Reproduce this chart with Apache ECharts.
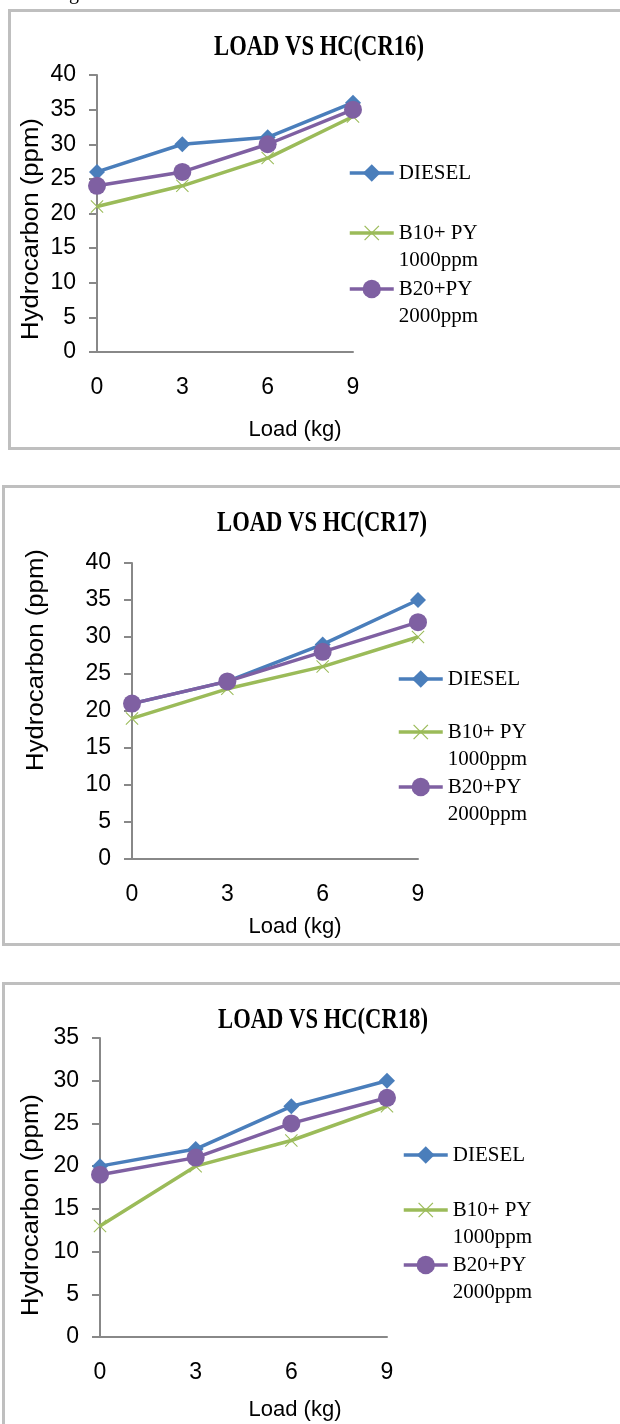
<!DOCTYPE html>
<html><head><meta charset="utf-8">
<script src="https://cdn.jsdelivr.net/npm/echarts@6/dist/echarts.min.js"></script>
<style>html,body{margin:0;padding:0;background:#fff;}#c{width:620px;height:1424px;}</style>
</head><body><div id="c"></div>
<script>
// ---- data ----
const loads = ['0', '3', '6', '9'];
const seriesNames = ['DIESEL', 'B10+ PY\n1000ppm', 'B20+PY\n2000ppm'];
const titles = ['LOAD VS HC(CR16)', 'LOAD VS HC(CR17)', 'LOAD VS HC(CR18)'];
const yMax = [40, 40, 35];
const cr16Diesel = [26, 30, 31, 36];
const cr16B10 = [21, 24, 28, 34];
const cr16B20 = [24, 26, 30, 35];
const cr17Diesel = [21, 24, 29, 35];
const cr17B10 = [19, 23, 26, 30];
const cr17B20 = [21, 24, 28, 32];
const cr18Diesel = [20, 22, 27, 30];
const cr18B10 = [13, 20, 23, 27];
const cr18B20 = [19, 21, 25, 28];
const yTitle = 'Hydrocarbon (ppm)';
const xTitle = 'Load (kg)';

const chartData = [
  [cr16Diesel, cr16B10, cr16B20],
  [cr17Diesel, cr17B10, cr17B20],
  [cr18Diesel, cr18B10, cr18B20]
];

// ---- layout ----
const grids = [
  {left: 97, top: 75, width: 256, height: 277},
  {left: 132, top: 563, width: 286, height: 296},
  {left: 100, top: 1038, width: 287, height: 299}
];
const boxes = [
  {x: 9.5, y: 10.5, w: 640, h: 438},
  {x: 3.5, y: 486.5, w: 640, h: 458},
  {x: 3.5, y: 983.5, w: 640, h: 500}
];
const titlePos = [[319, 48], [322, 524], [323, 1021]];
const yTitlePos = [[32, 229], [37, 660], [32, 1205]];
const xTitlePos = [[295, 430], [295, 927], [295, 1410]];
const legendLeft = [348, 397, 402];
const legendCenters = [[173, 233, 289], [679, 732, 787], [1155, 1210, 1265]];

const colors = ['#4a7ebb', '#9bbb59', '#7f60a2'];
const symbols = ['diamond',
  'path://M0,0.8L0.8,0L7,6.2L13.2,0L14,0.8L7.8,7L14,13.2L13.2,14L7,7.8L0.8,14L0,13.2L6.2,7Z',
  'circle'];
const symbolSizes = [16, 13, 18];
const legendItemH = [22, 19, 23];
const axisColor = '#888888';
const LH = 27;

const option = {
  animation: false,
  backgroundColor: '#fff',
  grid: grids.map(g => Object.assign({containLabel: false}, g)),
  xAxis: grids.map((g, i) => ({
    type: 'category', gridIndex: i, data: loads, boundaryGap: false,
    axisLine: {lineStyle: {color: axisColor, width: 2}},
    axisTick: {show: false},
    axisLabel: {color: '#000', fontFamily: 'Liberation Sans', fontSize: 23, margin: 24},
    splitLine: {show: false}
  })),
  yAxis: grids.map((g, i) => ({
    type: 'value', gridIndex: i, min: 0, max: yMax[i], interval: 5,
    axisLine: {show: true, lineStyle: {color: axisColor, width: 2}},
    axisTick: {show: true, length: 8, lineStyle: {color: axisColor, width: 2}},
    axisLabel: {color: '#000', fontFamily: 'Liberation Sans', fontSize: 23, margin: 21},
    splitLine: {show: false}
  })),
  legend: [],
  series: [],
  graphic: []
};

chartData.forEach((sets, ci) => {
  sets.forEach((vals, si) => {
    option.series.push({
      type: 'line', name: seriesNames[si], xAxisIndex: ci, yAxisIndex: ci,
      data: vals, symbol: symbols[si], symbolSize: symbolSizes[si],
      lineStyle: {color: colors[si], width: 3.5},
      itemStyle: {color: colors[si], borderWidth: 0},
      z: 2 + si
    });
    const twoLine = seriesNames[si].indexOf('\n') >= 0;
    const c = legendCenters[ci][si];
    option.legend.push({
      orient: 'vertical', left: legendLeft[ci], top: twoLine ? c - 1.5 * LH : c - 0.5 * LH,
      padding: 0, itemWidth: 44, itemHeight: legendItemH[si], itemGap: 0,
      data: [seriesNames[si]],
      lineStyle: {width: 3.5},
      formatter: name => (name.indexOf('\n') >= 0 ? '\n' + name : name),
      textStyle: {color: '#000', fontFamily: 'Liberation Serif', fontSize: 21, lineHeight: LH}
    });
  });
  const b = boxes[ci];
  option.graphic.push({
    type: 'rect', shape: {x: b.x, y: b.y, width: b.w, height: b.h},
    style: {fill: null, stroke: '#bfbfbf', lineWidth: 3}, z: 0, silent: true
  });
  option.graphic.push({
    type: 'text', x: titlePos[ci][0], y: titlePos[ci][1], scaleX: 0.78,
    style: {text: titles[ci], font: 'bold 29px "Liberation Serif"', fill: '#000', align: 'center', verticalAlign: 'middle'}
  });
  option.graphic.push({
    type: 'text', x: yTitlePos[ci][0], y: yTitlePos[ci][1], rotation: Math.PI / 2, scaleX: 1.12,
    style: {text: yTitle, font: '23px "Liberation Sans"', fill: '#000', align: 'center', verticalAlign: 'middle'}
  });
  option.graphic.push({
    type: 'text', x: xTitlePos[ci][0], y: xTitlePos[ci][1],
    style: {text: xTitle, font: '22px "Liberation Sans"', fill: '#000', align: 'center', verticalAlign: 'middle'}
  });
});
// cut-off caption fragment at the very top
option.graphic.push({
  type: 'text', x: 74, y: -6,
  style: {text: 'g', font: '20px "Liberation Serif"', fill: '#000', align: 'center', verticalAlign: 'middle'}
});

const chart = echarts.init(document.getElementById('c'));
chart.setOption(option);
</script>
</body></html>
